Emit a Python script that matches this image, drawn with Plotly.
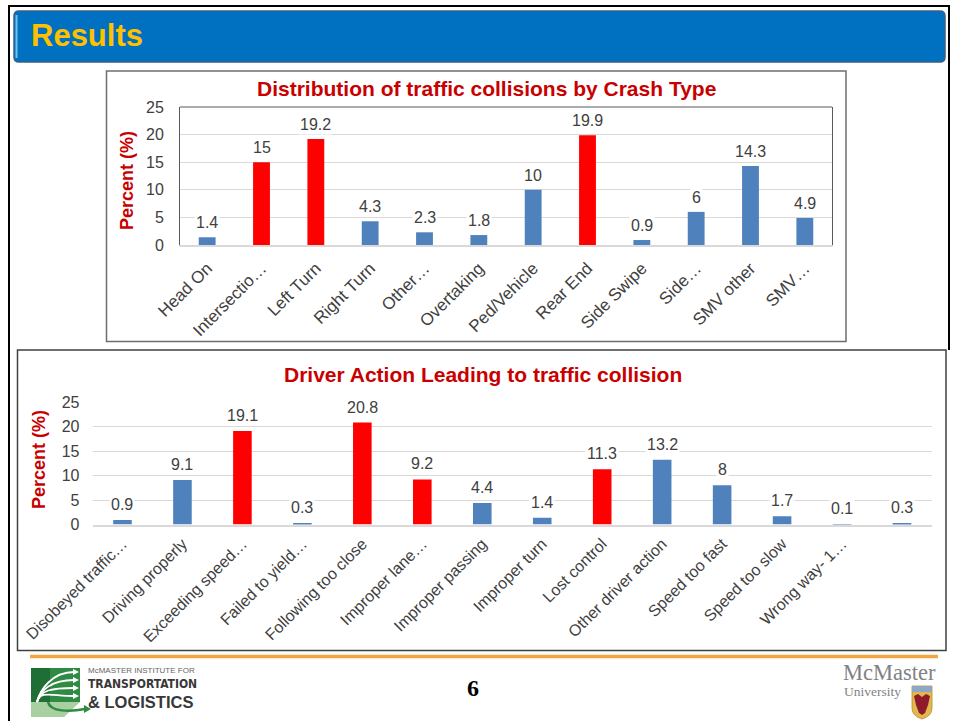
import plotly.graph_objects as go

W, H = 957, 721


def X(px):
    return px / W


def Y(py):
    return 1 - py / H


# ---------------- data ----------------
crash_types = ["Head On", "Intersectio…", "Left Turn", "Right Turn", "Other…", "Overtaking",
               "Ped/Vehicle", "Rear End", "Side Swipe", "Side…", "SMV other", "SMV…"]
crash_pct = [1.4, 15, 19.2, 4.3, 2.3, 1.8, 10, 19.9, 0.9, 6, 14.3, 4.9]
crash_highlight = [False, True, True, False, False, False, False, True, False, False, False, False]

actions = ["Disobeyed traffic…", "Driving properly", "Exceeding speed…", "Failed to yield…",
           "Following too close", "Improper lane…", "Improper passing", "Improper turn",
           "Lost control", "Other driver action", "Speed too fast", "Speed too slow",
           "Wrong way- 1…", " "]
action_pct = [0.9, 9.1, 19.1, 0.3, 20.8, 9.2, 4.4, 1.4, 11.3, 13.2, 8, 1.7, 0.1, 0.3]
action_highlight = [False, False, True, False, True, True, False, False, True, False, False,
                    False, False, False]

y_ticks = [0, 5, 10, 15, 20, 25]

title_top = "Distribution of traffic collisions by Crash Type"
title_bottom = "Driver Action Leading to traffic collision"
y_title = "Percent (%)"

# ---------------- style ----------------
BLUE = "#4F81BD"
RED = "#FF0000"
TITLE_RED = "#C80000"
TXT = "#404040"
GRID = "#D9D9D9"
FONT = "Liberation Sans, Arial, sans-serif"
NARROW = "Liberation Sans Narrow, Arial Narrow, DejaVu Sans Condensed, sans-serif"
SERIF = "Liberation Serif, Times New Roman, serif"

fig = go.Figure()

fig.add_trace(go.Bar(
    x=crash_types, y=crash_pct, width=0.31,
    marker=dict(color=[RED if h else BLUE for h in crash_highlight], line=dict(width=0)),
    xaxis="x", yaxis="y", hoverinfo="skip"))
fig.add_trace(go.Bar(
    x=actions, y=action_pct, width=0.31,
    marker=dict(color=[RED if h else BLUE for h in action_highlight], line=dict(width=0)),
    xaxis="x2", yaxis="y2", hoverinfo="skip"))

annotations = []
for c, v in zip(crash_types, crash_pct):
    annotations.append(dict(x=c, y=v, xref="x", yref="y", text=f"{v:g}", showarrow=False,
                            yanchor="bottom", yshift=4, bgcolor="white", borderpad=1,
                            font=dict(family=FONT, size=16, color=TXT)))
for c, v in zip(actions, action_pct):
    annotations.append(dict(x=c, y=v, xref="x2", yref="y2", text=f"{v:g}", showarrow=False,
                            yanchor="bottom", yshift=5, bgcolor="white", borderpad=1,
                            font=dict(family=FONT, size=16, color=TXT)))

# titles
annotations += [
    dict(x=X(486.5), y=Y(89), xref="paper", yref="paper", text=f"<b>{title_top}</b>",
         showarrow=False, xanchor="center", yanchor="middle",
         font=dict(family=FONT, size=21, color=TITLE_RED)),
    dict(x=X(483), y=Y(374), xref="paper", yref="paper", text=f"<b>{title_bottom}</b>",
         showarrow=False, xanchor="center", yanchor="middle",
         font=dict(family=FONT, size=21, color=TITLE_RED)),
    dict(x=X(127), y=Y(180), xref="paper", yref="paper", text=f"<b>{y_title}</b>",
         showarrow=False, textangle=-90, xanchor="center", yanchor="middle",
         font=dict(family=FONT, size=18, color=TITLE_RED)),
    dict(x=X(39), y=Y(460), xref="paper", yref="paper", text=f"<b>{y_title}</b>",
         showarrow=False, textangle=-90, xanchor="center", yanchor="middle",
         font=dict(family=FONT, size=18, color=TITLE_RED)),
    # header
    dict(x=X(29), y=Y(36), xref="paper", yref="paper", text="<b>Results</b>",
         showarrow=False, xanchor="left", yanchor="middle",
         font=dict(family=FONT, size=31, color="#FFC000")),
    # footer
    dict(x=X(473), y=Y(688), xref="paper", yref="paper", text="<b>6</b>",
         showarrow=False, xanchor="center", yanchor="middle",
         font=dict(family=SERIF, size=24, color="#000000")),
    dict(x=X(86), y=Y(670), xref="paper", yref="paper", text="McMASTER INSTITUTE FOR",
         showarrow=False, xanchor="left", yanchor="middle",
         font=dict(family=FONT, size=8, color="#666666")),
    dict(x=X(86), y=Y(684), xref="paper", yref="paper", text="<b>TRANSPORTATION</b>",
         showarrow=False, xanchor="left", yanchor="middle",
         font=dict(family=NARROW, size=12, color="#383838")),
    dict(x=X(86), y=Y(701.6), xref="paper", yref="paper", text="<b>& LOGISTICS</b>",
         showarrow=False, xanchor="left", yanchor="middle",
         font=dict(family=FONT, size=16.5, color="#383838")),
    dict(x=X(841), y=Y(672.6), xref="paper", yref="paper", text="McMaster",
         showarrow=False, xanchor="left", yanchor="middle",
         font=dict(family=SERIF, size=22.5, color="#808285")),
    dict(x=X(842), y=Y(691.6), xref="paper", yref="paper", text="University",
         showarrow=False, xanchor="left", yanchor="middle",
         font=dict(family=SERIF, size=13.5, color="#808285")),
]


def rr(x0, y0, x1, y1, r):
    return (f"M{X(x0 + r)},{Y(y0)} L{X(x1 - r)},{Y(y0)} Q{X(x1)},{Y(y0)} {X(x1)},{Y(y0 + r)} "
            f"L{X(x1)},{Y(y1 - r)} Q{X(x1)},{Y(y1)} {X(x1 - r)},{Y(y1)} L{X(x0 + r)},{Y(y1)} "
            f"Q{X(x0)},{Y(y1)} {X(x0)},{Y(y1 - r)} L{X(x0)},{Y(y0 + r)} Q{X(x0)},{Y(y0)} {X(x0 + r)},{Y(y0)} Z")


def path(points, close=True):
    s = "M" + " L".join(f"{X(a)},{Y(b)}" for a, b in points)
    return s + (" Z" if close else "")


def curve(p0, c1, c2, p1):
    return (f"M{X(p0[0])},{Y(p0[1])} C{X(c1[0])},{Y(c1[1])} {X(c2[0])},{Y(c2[1])} "
            f"{X(p1[0])},{Y(p1[1])}")


shapes = []
P = dict(xref="paper", yref="paper")
# slide outer border
shapes += [
    dict(type="line", x0=X(8), x1=X(950), y0=Y(6), y1=Y(6), line=dict(color="#000", width=2), **P),
    dict(type="line", x0=X(9), x1=X(9), y0=Y(6), y1=Y(721), line=dict(color="#000", width=2), **P),
    dict(type="line", x0=X(949), x1=X(949), y0=Y(6), y1=Y(350), line=dict(color="#000", width=2), **P),
]
# header bar
shapes += [
    dict(type="path", path=rr(14, 11, 945, 62, 5), fillcolor="#0070C0",
         line=dict(color="#3A5F86", width=1.5), **P),
    dict(type="line", x0=X(16.5), x1=X(16.5), y0=Y(15), y1=Y(58),
         line=dict(color="#6CC4F5", width=2), **P),
]
# chart boxes
shapes += [
    dict(type="rect", x0=X(106.5), x1=X(846), y0=Y(71), y1=Y(341.5),
         line=dict(color="#6E6E6E", width=1.5), fillcolor="rgba(0,0,0,0)", **P),
    dict(type="rect", x0=X(17.5), x1=X(946), y0=Y(350), y1=Y(650.5),
         line=dict(color="#404040", width=1.5), fillcolor="rgba(0,0,0,0)", **P),
    # top frame of top plot area
    dict(type="line", xref="x domain", yref="y domain", x0=0, x1=1, y0=1, y1=1,
         line=dict(color="#595959", width=1)),
]
# footer orange line
shapes.append(dict(type="line", x0=X(30), x1=X(938), y0=Y(656.5), y1=Y(656.5),
                   line=dict(color="#F2A643", width=3.5), **P))
# left logo
shapes += [
    dict(type="path", path=path([(31, 702), (80, 702), (64, 717), (31, 717)]),
         fillcolor="#A9D0A1", line=dict(width=0), **P),
    dict(type="rect", x0=X(31), x1=X(80), y0=Y(668), y1=Y(702),
         fillcolor="#2F8A43", line=dict(width=0), **P),
    dict(type="rect", x0=X(31), x1=X(50), y0=Y(668), y1=Y(702),
         fillcolor="#1F6E35", line=dict(width=0), **P),
]
for ty in [672, 680, 688, 696]:
    shapes.append(dict(type="path", path=curve((37, 702), (40, 690), (52, ty), (74, ty)),
                       line=dict(color="white", width=1.8), **P))
    shapes.append(dict(type="path", path=path([(73, ty - 3), (79, ty), (73, ty + 3)]),
                       fillcolor="white", line=dict(width=0), **P))
shapes += [
    dict(type="path", path=curve((48, 702), (50, 712), (70, 712), (85, 709)),
         line=dict(color="#2F8A43", width=2.5), **P),
    dict(type="path", path=path([(84, 705), (91, 709), (84, 713)]),
         fillcolor="#2F8A43", line=dict(width=0), **P),
]
# McMaster shield
shapes += [
    dict(type="path",
         path=(f"M{X(912)},{Y(686)} L{X(932)},{Y(686)} L{X(932)},{Y(708)} "
               f"Q{X(932)},{Y(716)} {X(922)},{Y(719)} Q{X(912)},{Y(716)} {X(912)},{Y(708)} Z"),
         fillcolor="#E2B84E", line=dict(color="#B88A2A", width=0.8), **P),
    dict(type="rect", x0=X(912), x1=X(932), y0=Y(686), y1=Y(692),
         fillcolor="#8EA8C4", line=dict(width=0), **P),
    dict(type="path", path=path([(914, 696), (918, 694), (922, 697), (926, 694), (930, 696),
                                 (928, 705), (925, 713), (922, 715), (919, 713), (916, 705)]),
         fillcolor="#8E1B2C", line=dict(width=0), **P),
]

axis_font = dict(family=FONT, size=16, color=TXT)

fig.update_layout(
    template="none",
    width=W, height=H, autosize=False,
    margin=dict(l=0, r=0, t=0, b=0, pad=0),
    paper_bgcolor="white", plot_bgcolor="white",
    showlegend=False,
    xaxis=dict(domain=[X(180), X(832)], anchor="y", type="category",
               tickangle=-45, tickfont=dict(family=FONT, size=17, color=TXT),
               showgrid=False, zeroline=False, showline=True, linecolor=GRID, linewidth=1.5,
               ticks="", ticklabelstandoff=5, automargin=False, fixedrange=True),
    yaxis=dict(domain=[Y(245), Y(107)], anchor="x", range=[0, 25], tickvals=y_ticks,
               tickfont=axis_font, showgrid=True, gridcolor=GRID, gridwidth=1,
               zeroline=False, showline=True, mirror=True, linecolor="#595959", linewidth=1,
               ticks="", ticklabelstandoff=12, automargin=False, fixedrange=True),
    xaxis2=dict(domain=[X(92.5), X(932)], anchor="y2", type="category",
                tickangle=-45, tickfont=dict(family=FONT, size=16, color=TXT),
                showgrid=False, zeroline=False, showline=True, linecolor=GRID, linewidth=1.5,
                ticks="", ticklabelstandoff=2, automargin=False, fixedrange=True),
    yaxis2=dict(domain=[Y(524.5), Y(402)], anchor="x2", range=[0, 25], tickvals=y_ticks,
                tickfont=axis_font, showgrid=True, gridcolor=GRID, gridwidth=1,
                zeroline=False, showline=False, ticks="", ticklabelstandoff=12,
                automargin=False, fixedrange=True),
    annotations=annotations,
    shapes=shapes,
)

fig.write_html("out.html", config={"displayModeBar": False},
               post_script="document.body.style.margin='0px'; document.body.style.overflow='hidden';")
